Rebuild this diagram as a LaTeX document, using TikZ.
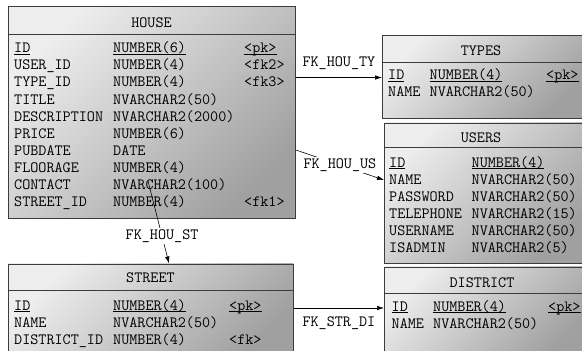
\documentclass[tikz,border=0pt]{standalone}
\usepackage{fontspec}
\usepackage{tikz}
\usetikzlibrary{arrows.meta, positioning}
\definecolor{boxline}{RGB}{60,60,60}
\definecolor{boxlight}{RGB}{238,238,238}
\definecolor{boxdark}{RGB}{160,160,160}
\newcommand{\pdmfont}{\ttfamily\fontsize{15.7}{17.1}\selectfont}
\newcommand{\pkline}[1]{\underline{\raisebox{0pt}[\height][0pt]{#1}}}
\newcommand{\rowtop}{\rule{0pt}{14pt}}

\begin{document}
\begin{tikzpicture}[x=1pt, y=-1pt,
    table/.style={draw=boxline, line width=0.8pt, anchor=north west, inner sep=0pt,
      top color=boxlight, bottom color=boxdark, shading angle=45},
    title/.style={anchor=base, inner sep=0pt, font=\pdmfont},
    col/.style={anchor=north west, inner sep=0pt, align=left, font=\pdmfont},
    fk/.style={black, line width=0.6pt, -{Latex[length=7pt,width=4.5pt]}},
    fklabel/.style={inner sep=1.5pt, font=\pdmfont}]
  \clip (0,0) rectangle (582,351);
  % HOUSE
  \node[table, minimum width=287pt, minimum height=212pt] (house) at (8,6) {};
  \draw[boxline, line width=0.8pt] ([yshift=-28.5pt]house.north west) -- ([yshift=-28.5pt]house.north east);
  \node[title] (house-name) at (151.5,27) {HOUSE};
  \node[col] (house-col1) at (14,38.5) {\rowtop\pkline{ID}\\USER\_ID\\TYPE\_ID\\TITLE\\DESCRIPTION\\PRICE\\PUBDATE\\FLOORAGE\\CONTACT\\STREET\_ID};
  \node[col] (house-col2) at (113,38.5) {\rowtop\pkline{NUMBER(6)}\\NUMBER(4)\\NUMBER(4)\\NVARCHAR2(50)\\NVARCHAR2(2000)\\NUMBER(6)\\DATE\\NUMBER(4)\\NVARCHAR2(100)\\NUMBER(4)};
  \node[col] (house-col3) at (244,38.5) {\rowtop\pkline{<pk>}\\<fk2>\\<fk3>};
  \node[col] (house-col3b) at (244,192.4) {\rowtop <fk1>};
  % TYPES
  \node[table, minimum width=202pt, minimum height=83pt] (types) at (382,35) {};
  \draw[boxline, line width=0.8pt] ([yshift=-27.5pt]types.north west) -- ([yshift=-27.5pt]types.north east);
  \node[title] (types-name) at (481,55) {TYPES};
  \node[col] (types-col1) at (388,65.5) {\rowtop\pkline{ID}\\NAME};
  \node[col] (types-col2) at (429.5,65.5) {\rowtop\pkline{NUMBER(4)}\\NVARCHAR2(50)};
  \node[col] (types-col3) at (546,65.5) {\rowtop\pkline{<pk>}};
  % USERS
  \node[table, minimum width=200pt, minimum height=140pt] (users) at (384,122.5) {};
  \draw[boxline, line width=0.8pt] ([yshift=-25pt]users.north west) -- ([yshift=-25pt]users.north east);
  \node[title] (users-name) at (481,142) {USERS};
  \node[col] (users-col1) at (389,153) {\rowtop\pkline{ID}\\NAME\\PASSWORD\\TELEPHONE\\USERNAME\\ISADMIN};
  \node[col] (users-col2) at (471.5,153) {\rowtop\pkline{NUMBER(4)}\\NVARCHAR2(50)\\NVARCHAR2(50)\\NVARCHAR2(15)\\NVARCHAR2(50)\\NVARCHAR2(5)};
  % STREET
  \node[table, minimum width=285pt, minimum height=97pt] (street) at (8,263.5) {};
  \draw[boxline, line width=0.8pt] ([yshift=-26.5pt]street.north west) -- ([yshift=-26.5pt]street.north east);
  \node[title] (street-name) at (150.5,282) {STREET};
  \node[col] (street-col1) at (14,296) {\rowtop\pkline{ID}\\NAME\\DISTRICT\_ID};
  \node[col] (street-col2) at (113,296) {\rowtop\pkline{NUMBER(4)}\\NVARCHAR2(50)\\NUMBER(4)};
  \node[col] (street-col3) at (229,296) {\rowtop\pkline{<pk>}\\ \\<fk>};
  % DISTRICT
  \node[table, minimum width=200pt, minimum height=94pt] (district) at (384,266.5) {};
  \draw[boxline, line width=0.8pt] ([yshift=-27pt]district.north west) -- ([yshift=-27pt]district.north east);
  \node[title] (district-name) at (482,287) {DISTRICT};
  \node[col] (district-col1) at (391.5,297) {\rowtop\pkline{ID}\\NAME};
  \node[col] (district-col2) at (433,297) {\rowtop\pkline{NUMBER(4)}\\NVARCHAR2(50)};
  \node[col] (district-col3) at (548,297) {\rowtop\pkline{<pk>}};
  % references
  \coordinate (st-from) at (148,181);
  \draw[fk] (house.north east |- 0,77.5) -- (types.west |- 0,77.5)
    node[fklabel, midway, above=6pt] (fk-hou-ty) {FK\_HOU\_TY};
  \draw[fk] (house.north east |- 0,150) -- (users.west |- 0,180)
    node[fklabel, midway, fill=white] (fk-hou-us) {FK\_HOU\_US};
  \draw[fk] (st-from) -- (street.north -| 169,0)
    node[fklabel, pos=0.67, fill=white] (fk-hou-st) {FK\_HOU\_ST};
  \draw[fk] (street.north east |- 0,308) -- (district.west |- 0,308)
    node[fklabel, midway, below=7pt] (fk-str-di) {FK\_STR\_DI};
\end{tikzpicture}
\end{document}
